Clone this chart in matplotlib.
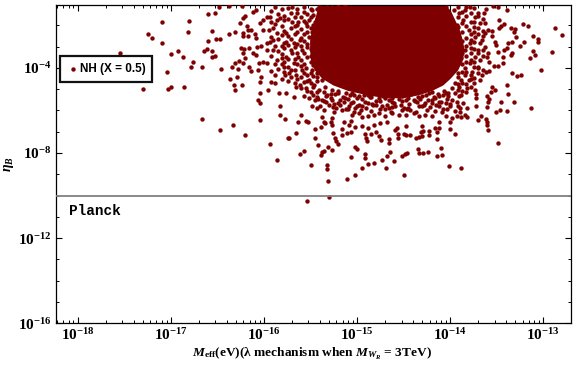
import numpy as np
import matplotlib
matplotlib.use("Agg")
import matplotlib.pyplot as plt
from matplotlib.ticker import NullFormatter

plt.rcParams.update({
    "mathtext.fontset": "custom",
    "mathtext.rm": "Liberation Serif:bold",
    "mathtext.it": "Liberation Serif:italic:bold",
    "mathtext.bf": "Liberation Serif:bold",
    "font.family": "Liberation Serif",
    "font.weight": "bold",
})

# log10 of each readable point
log_meff = [
-15.31,-15.11,-15.02,-14.50,-15.32,-15.32,-15.49,-14.95,-14.88,-14.82,-14.69,-14.73,-14.68,-14.65,-14.60,-14.52,-14.49,-14.46,-15.07,-14.92,
-14.91,-15.02,-15.00,-15.61,-15.57,-15.39,-15.38,-15.36,-15.42,-15.31,-15.27,-14.35,-14.33,-14.29,-14.24,-14.14,-14.09,-14.10,-14.01,-13.88,
-13.49,-15.45,-15.66,-15.73,-15.21,-15.23,-15.24,-15.26,-15.45,-15.39,-15.36,-15.34,-15.63,-15.60,-15.55,-15.53,-15.38,-15.27,-15.28,-15.27,
-15.16,-15.16,-15.11,-15.06,-15.09,-15.06,-15.02,-15.14,-15.05,-14.95,-14.89,-14.91,-14.90,-14.85,-14.80,-14.77,-14.74,-14.66,-14.66,-14.56,
-14.56,-14.50,-14.47,-14.43,-14.37,-14.33,-14.31,-14.29,-14.30,-14.23,-14.23,-14.14,-14.14,-14.12,-14.12,-14.16,-14.30,-14.00,-13.95,-14.00,
-13.98,-13.93,-13.88,-13.82,-13.70,-13.67,-13.62,-13.61,-13.59,-13.60,-13.51,-13.47,-13.39,-13.13,-13.31,-13.38,-13.39,-13.55,-13.52,-13.56,
-13.60,-13.58,-13.59,-13.60,-13.72,-13.72,-13.73,-13.72,-13.82,-13.84,-13.89,-13.86,-13.89,-13.46,-13.02,-12.91,-12.80,-12.87,-13.22,-13.16,
-13.11,-13.06,-13.06,-13.21,-13.25,-13.11,-13.09,-13.14,-13.28,-13.24,-13.34,-13.49,-13.53,-13.58,-13.62,-13.58,-13.59,-13.49,-13.43,-13.34,
-13.35,-13.43,-13.39,-13.42,-13.34,-13.38,-13.52,-13.51,-13.48,-13.46,-13.42,-13.35,-13.31,-13.30,-13.29,-13.39,-13.49,-13.54,-13.62,-13.64,
-13.70,-13.73,-13.63,-13.59,-13.55,-13.55,-13.48,-13.63,-13.66,-13.68,-13.63,-13.61,-13.68,-13.73,-13.79,-13.77,-13.70,-13.84,-13.80,-13.75,
-13.68,-13.66,-13.82,-13.88,-13.95,-13.91,-13.98,-14.05,-14.12,-14.20,-14.27,-14.34,-14.43,-14.50,-14.59,-14.66,-14.73,-14.80,-14.88,-14.95,
-15.02,-15.09,-15.16,-15.23,-15.30,-15.38,-15.45,-15.52,-15.48,-15.43,-15.27,-15.20,-15.68,-15.57,-15.66,-15.61,-15.55,-15.46,-15.59,-15.55,
-15.66,-15.73,-15.68,-15.70,-15.63,-15.59,-15.68,-15.61,-15.52,-15.48,-15.55,-15.63,-15.70,-15.52,-15.64,-15.57,-15.48,-15.41,-15.34,-15.70,
-15.27,-14.98,-14.88,-14.82,-14.77,-14.70,-14.63,-14.55,-14.48,-14.39,-14.34,-14.27,-14.20,-14.09,-14.05,-14.88,-14.82,-14.75,-14.68,-14.57,
-14.48,-14.59,-14.95,-13.95,-13.91,-14.05,-13.98,-14.12,-14.23,-14.30,-14.39,-14.48,-14.55,-14.66,-14.77,-14.88,-14.98,-15.05,-15.13,-15.20,
-15.27,-15.34,-15.38,-15.43,-15.48,-15.52,-15.41,-15.32,-13.96,-13.91,-13.84,-13.79,-13.86,-13.93,-13.96,-13.80,-13.73,-13.79,-13.84,-13.88,
-13.84,-13.88,-13.75,-13.68,-14.04,-14.09,-15.45,-15.39,-15.46,-15.54,-15.50,-15.43,-15.32,-15.20,-15.13,
-17.55,-17.09,-16.80,-16.60,-16.53,-16.48,-16.38,-16.24,-17.24,-17.20,-17.09,-16.82,-16.56,-16.60,-16.51,-16.47,-16.38,-16.31,-17.00,-16.92,
-16.87,-16.76,-16.78,-16.67,-16.64,-16.61,-16.56,-16.53,-16.56,-16.46,-17.04,-17.30,-17.03,-17.00,-16.86,-16.34,-16.28,-16.36,-16.29,-16.32,
-16.31,-16.24,-16.66,-16.47,-16.33,-16.20,-15.94,-15.86,-16.04,-15.83,-15.83,-15.77,-16.06,-16.04,-16.04,-15.96,-15.84,-15.76,-16.04,-16.03,
-15.92,-15.88,-15.74,-16.26,-16.22,-16.20,-16.12,-16.09,-16.18,-16.17,-16.14,-16.23,-16.22,-16.17,-16.10,-16.09,-16.25,-16.21,-16.16,-16.23,
-16.20,-16.27,-16.31,-16.12,-16.09,-16.07,-16.03,-15.97,-15.94,-16.05,-16.01,-15.97,-16.16,-16.22,-16.06,-16.14,-16.01,-15.97,-15.94,-15.92,
-16.01,-15.95,-15.90,-15.86,-15.83,-15.79,-15.86,-15.81,-15.76,-15.90,-15.79,-15.76,-15.97,-15.90,-15.86,-15.81,-15.76,-15.79,-15.77,-16.04,
-15.54,-15.30,
]
log_eta = [
-9.33,-9.22,-9.05,-9.03,-8.75,-8.55,-8.56,-8.70,-8.52,-8.47,-8.70,-8.33,-8.13,-7.97,-8.38,-8.13,-8.06,-8.02,-8.19,-8.05,
-8.25,-7.72,-7.81,-8.05,-7.91,-8.09,-7.97,-7.91,-7.63,-7.72,-7.86,-7.83,-8.00,-8.00,-7.95,-8.14,-8.09,-7.77,-8.61,-8.70,
-7.53,-7.30,-7.06,-7.30,-7.58,-7.44,-7.30,-7.06,-6.88,-6.77,-6.55,-6.59,-6.53,-6.23,-6.50,-6.55,-6.31,-6.36,-6.55,-6.69,
-6.88,-7.16,-7.06,-7.02,-6.69,-6.50,-6.78,-6.55,-6.20,-6.31,-7.44,-7.11,-7.30,-7.11,-7.02,-7.20,-7.38,-7.34,-7.53,-7.11,
-7.30,-7.11,-7.13,-7.16,-7.30,-7.25,-7.02,-6.97,-7.19,-6.97,-7.16,-7.34,-7.02,-6.83,-6.55,-6.83,-6.73,-6.88,-7.11,-6.55,
-6.36,-6.28,-6.31,-6.31,-6.47,-6.27,-6.41,-6.67,-6.92,-6.55,-6.08,-5.98,-6.03,-5.89,-5.61,-5.23,-4.81,-4.91,-5.06,-5.13,
-5.34,-5.44,-5.58,-5.86,-5.22,-5.42,-5.03,-5.81,-5.89,-6.20,-6.05,-5.66,-5.89,-5.61,-4.11,-3.27,-2.47,-2.14,-1.95,-2.05,
-2.52,-2.66,-2.78,-2.77,-2.97,-3.22,-3.38,-3.55,-4.39,-4.31,-4.25,-3.92,-3.92,-4.16,-4.20,-3.73,-3.31,-3.27,-3.47,-3.31,
-3.41,-3.78,-3.08,-3.16,-2.80,-2.84,-2.77,-2.92,-2.14,-2.05,-1.95,-2.14,-2.33,-2.19,-2.56,-1.30,-1.16,-1.08,-1.22,-1.41,
-1.44,-1.59,-1.91,-2.22,-2.25,-2.50,-1.75,-2.38,-2.69,-2.84,-3.00,-3.47,-3.63,-3.47,-3.78,-4.17,-4.02,-4.33,-4.56,-4.72,
-4.56,-4.33,-4.95,-5.27,-5.19,-5.34,-5.50,-5.66,-5.81,-5.50,-5.66,-5.81,-5.97,-5.89,-5.81,-5.89,-5.81,-5.73,-5.66,-5.81,
-5.89,-5.81,-5.97,-5.89,-5.73,-5.50,-5.50,-5.42,-5.81,-5.89,-5.50,-5.66,-5.38,-5.34,-4.88,-4.80,-4.95,-4.80,-4.09,-4.02,
-4.33,-4.25,-3.78,-3.31,-3.47,-3.16,-2.84,-2.69,-2.53,-2.30,-1.91,-1.83,-1.83,-1.75,-1.44,-1.36,-1.28,-1.13,-1.36,-1.13,
-1.16,-6.13,-6.28,-6.20,-6.13,-6.28,-6.13,-6.20,-6.20,-6.13,-6.28,-6.20,-6.28,-6.05,-6.28,-6.83,-6.67,-6.59,-6.56,-6.83,
-6.75,-6.91,-6.75,-4.72,-4.88,-5.19,-4.95,-5.34,-5.19,-5.34,-5.50,-5.50,-5.34,-5.50,-5.42,-5.27,-5.34,-5.19,-5.42,-5.19,
-5.03,-4.88,-4.56,-4.41,-4.09,-4.56,-5.03,-5.27,-1.28,-1.44,-1.28,-1.13,-1.75,-1.98,-2.38,-2.22,-2.53,-2.84,-3.16,-3.55,
-4.02,-4.56,-2.06,-1.91,-1.13,-1.20,-1.83,-1.59,-2.84,-3.00,-3.70,-4.02,-1.13,-1.09,-1.05,
-3.31,-1.83,-1.78,-1.45,-1.41,-1.13,-1.08,-1.08,-2.42,-2.58,-2.81,-2.30,-2.25,-2.72,-2.63,-2.63,-2.39,-2.30,-3.36,-3.19,
-3.47,-3.73,-3.94,-3.98,-3.19,-3.09,-3.19,-3.42,-3.47,-4.03,-4.17,-4.97,-4.97,-4.92,-4.88,-3.98,-4.03,-4.50,-4.45,-4.78,
-5.02,-4.78,-6.42,-6.94,-6.66,-7.13,-7.59,-8.34,-6.47,-5.81,-6.19,-6.42,-5.53,-5.67,-5.16,-5.02,-5.20,-5.16,-4.64,-4.41,
-4.64,-4.69,-7.31,-1.88,-1.67,-1.56,-1.36,-1.28,-2.02,-2.22,-2.22,-2.38,-2.48,-2.50,-2.41,-2.61,-3.05,-3.09,-3.05,-3.31,
-3.55,-3.67,-3.78,-3.31,-3.39,-3.00,-2.95,-2.84,-2.80,-3.75,-3.70,-3.78,-3.94,-3.78,-4.09,-4.13,-1.75,-1.59,-1.59,-1.83,
-2.22,-2.22,-2.14,-1.75,-1.67,-1.75,-2.38,-2.45,-2.38,-2.69,-2.84,-2.77,-3.16,-3.16,-3.63,-3.55,-3.47,-3.94,-4.33,-1.91,
-10.25,-10.08,
]

# Dense ring around the core: estimated by eye, column by column
band_meff = [-15.92,-15.88,-15.85,-15.81,-15.78,-15.74,-15.71,-15.67,-15.64,-15.60,-15.57,-15.54,-15.50,-15.47,-15.43,
             -13.92,-13.87,-13.83,-13.78,-13.74,-13.70,-13.65]
band_eta = [
    [-1.32,-2.55,-3.45,-4.15],
    [-1.12,-1.95,-2.95,-3.82,-4.32],
    [-1.48,-2.62,-3.22,-4.05],
    [-1.22,-2.05,-2.98,-3.35,-3.82,-4.52],
    [-1.55,-2.28,-3.08,-3.72,-4.18],
    [-1.18,-1.68,-2.52,-2.92,-3.58,-3.95,-4.62],
    [-1.42,-2.12,-2.66,-3.18,-4.12,-4.45],
    [-1.62,-2.02,-2.42,-3.02,-3.58,-4.08,-4.72],
    [-1.22,-1.98,-2.32,-2.88,-3.28,-3.82,-4.52],
    [-1.62,-2.18,-2.58,-2.98,-3.62,-3.92,-4.42,-4.95],
    [-1.15,-1.78,-2.42,-2.72,-3.32,-3.82,-4.22,-4.68],
    [-1.48,-2.02,-2.32,-2.88,-3.48,-4.32,-4.62,-5.08],
    [-1.22,-1.62,-2.12,-3.12,-3.42,-4.25,-4.72,-5.12],
    [-1.52,-1.98,-2.58,-3.28,-3.88,-4.38,-4.88,-5.28],
    [-1.22,-1.72,-2.42,-4.25,-4.62,-5.12,-5.38],
    [-1.15,-1.62,-2.08,-2.55,-3.02,-3.78,-4.25,-4.42,-4.75,-5.02],
    [-1.35,-1.88,-2.32,-2.72,-3.32,-3.82,-4.18,-4.72,-5.08],
    [-1.12,-1.55,-2.02,-2.58,-2.98,-3.42,-3.72,-4.20,-4.75,-5.12],
    [-1.42,-1.82,-2.42,-2.68,-3.05,-3.32,-3.62,-4.35,-4.52,-4.92],
    [-1.20,-1.82,-2.30,-2.78,-3.12,-3.72,-3.98,-4.48],
    [-1.58,-2.12,-2.42,-3.15,-3.32,-3.95,-4.22],
    [-1.72,-2.28,-2.52,-3.18,-3.42,-4.10],
]

# Dense band under the core
under_meff = [
-15.36,-15.28,-15.20,-15.12,-15.03,-14.20,-14.13,-14.07,-14.02,
-15.33,-15.24,-15.15,-15.08,-15.00,-14.93,-14.85,-14.72,-14.62,-14.52,-14.42,-14.35,-14.26,-14.17,-14.08,-14.02,
-15.42,-15.35,-15.28,-15.18,-15.10,-15.04,-14.95,-14.86,-14.80,-14.70,-14.62,-14.55,-14.45,-14.38,-14.32,-14.24,-14.16,-14.10,-14.03,
-15.33,-15.25,-15.14,-15.06,-14.98,-14.92,-14.84,-14.75,-14.68,-14.60,-14.52,-14.44,-14.36,-14.28,-14.20,-14.12,-14.00,-13.93,
-15.40,-15.26,-15.18,-15.12,-15.00,-14.90,-14.83,-14.70,-14.62,-14.53,-14.45,-14.30,-14.22,-14.15,-14.08,-14.00,-13.92,
-15.35,-15.25,-15.10,-15.03,-14.96,-14.85,-14.75,-14.64,-14.52,-14.46,-14.37,-14.25,-14.16,-14.03,-13.95,
]
under_eta = [
-5.12,-5.22,-5.08,-5.18,-5.25,-5.12,-5.22,-5.08,-5.17,
-5.33,-5.24,-5.38,-5.29,-5.41,-5.26,-5.35,-5.30,-5.40,-5.33,-5.24,-5.37,-5.28,-5.36,-5.25,-5.33,
-5.46,-5.56,-5.41,-5.52,-5.44,-5.58,-5.47,-5.39,-5.55,-5.43,-5.60,-5.48,-5.42,-5.57,-5.45,-5.52,-5.41,-5.58,-5.47,
-5.62,-5.71,-5.58,-5.66,-5.74,-5.61,-5.69,-5.57,-5.72,-5.63,-5.55,-5.70,-5.61,-5.75,-5.64,-5.58,-5.68,-5.62,
-5.78,-5.84,-5.74,-5.92,-5.80,-5.87,-5.76,-5.94,-5.82,-5.72,-5.90,-5.79,-5.86,-5.75,-5.93,-5.81,-5.77,
-5.98,-6.05,-5.94,-6.08,-5.99,-6.02,-5.93,-6.06,-6.00,-5.92,-6.07,-5.97,-6.03,-5.95,-6.01,
]

# The saturated core, where single points can no longer be told apart:
# its left and right edge at each height.
core_log_eta   = [-1.03, -1.28, -1.75, -2.22, -2.69, -3.16, -3.63, -4.09, -4.48, -4.80, -5.06, -5.26, -5.40]
core_log_left  = [-15.38, -15.43, -15.46, -15.49, -15.51, -15.51, -15.50, -15.46, -15.38, -15.26, -15.10, -14.90, -14.70]
core_log_right = [-14.06, -14.00, -13.95, -13.90, -13.87, -13.85, -13.87, -13.92, -14.00, -14.08, -14.20, -14.34, -14.50]

planck_eta = 1e-10
x_tick_exp = [-18, -17, -16, -15, -14, -13]
y_tick_exp = [-16, -12, -8, -4]
y_minor_exp = [-15, -14, -13, -11, -10, -9, -7, -6, -5, -3, -2]

MAROON = "#7f0000"
W, H = 576, 367
fig = plt.figure(figsize=(W / 100, H / 100), dpi=100)
ax = fig.add_axes([55.7 / W, 1 - 323.3 / H, (571.3 - 55.7) / W, (323.3 - 4.7) / H])

all_x = np.array(log_meff + under_meff + [x for x, ys in zip(band_meff, band_eta) for _ in ys])
all_y = np.array(log_eta + under_eta + [y for ys in band_eta for y in ys])

ax.fill_betweenx(10.0 ** np.array(core_log_eta), 10.0 ** np.array(core_log_left),
                 10.0 ** np.array(core_log_right), color=MAROON, lw=0, zorder=2)
pts = ax.scatter(10.0 ** all_x, 10.0 ** all_y, s=10,
                 color=MAROON, linewidths=0, zorder=3, label="NH (X = 0.5)")
ax.axhline(planck_eta, color="#808080", lw=1.3, zorder=4)

ax.set_xscale("log")
ax.set_yscale("log")
ax.set_xlim(10 ** -18.236, 10 ** -12.70)
ax.set_ylim(1e-16, 10 ** -1.03)

ax.set_xticks([10.0 ** e for e in x_tick_exp])
ax.set_xticklabels([f"$10^{{{e}}}$".replace("-", "\u2212") for e in x_tick_exp], fontsize=11)
ax.set_xticks([m * 10.0 ** e for e in range(-19, -12) for m in range(2, 10)
               if 10 ** -18.236 < m * 10.0 ** e < 10 ** -12.70], minor=True)
ax.set_yticks([10.0 ** e for e in y_tick_exp])
ax.set_yticklabels([f"$10^{{{e}}}$".replace("-", "\u2212") for e in y_tick_exp], fontsize=11)
ax.set_yticks([10.0 ** e for e in y_minor_exp], minor=True)
ax.xaxis.set_minor_formatter(NullFormatter())
ax.yaxis.set_minor_formatter(NullFormatter())
ax.tick_params(which="major", direction="in", top=True, right=True, length=4, width=0.8, pad=3)
ax.tick_params(which="minor", direction="in", top=True, right=True, length=2.2, width=0.7)
for s in ax.spines.values():
    s.set_linewidth(0.9)

ax.text(10 ** -18.09, 10 ** -10.72, "Planck", family="Liberation Mono", weight="bold",
        fontsize=10.4, va="center", ha="left", zorder=5)

leg = ax.legend(handles=[pts], loc="upper left", bbox_to_anchor=(0.0085, 0.84), borderaxespad=0,
                fancybox=False, framealpha=1, edgecolor="#111111", borderpad=0.6,
                handletextpad=0.05, handlelength=1.0, scatterpoints=1,
                prop={"family": "Liberation Sans", "weight": "bold", "size": 8.5})
leg.get_frame().set_linewidth(1.6)
leg.set_zorder(6)

fig.text(312 / W, 1 - 354 / H,
         r"$\mathit{M}_{\mathrm{eff}}$(eV)(λ mechanism when $\mathit{M}_{\mathit{W}_{\mathit{R}}}$ = 3TeV)",
         fontsize=9.6, ha="center", va="center")
fig.text(9 / W, 1 - 164 / H, r"$\eta_{B}$", fontsize=10, rotation=90, ha="center", va="center")

fig.savefig("out.png", dpi=100)
